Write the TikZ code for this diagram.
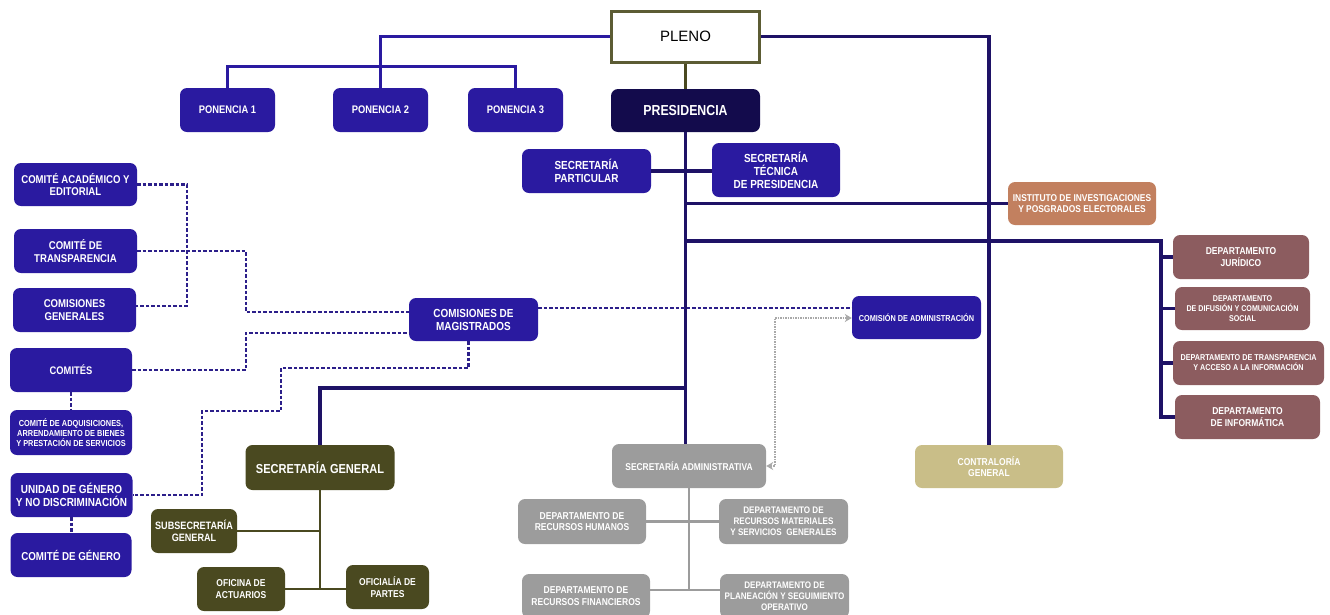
\documentclass[tikz,border=0pt]{standalone}
\usepackage{fontspec}
\setmainfont{Liberation Sans}[FakeStretch=0.85]
\newfontfamily\plenofont{Liberation Sans}
\usepackage{tikz}
\usetikzlibrary{arrows.meta}
\definecolor{org_blue}{HTML}{2A1AA0}
\definecolor{org_navy}{HTML}{130B4C}
\definecolor{org_line}{HTML}{1E1266}
\definecolor{org_dash}{HTML}{2C1F8A}
\definecolor{org_olive}{HTML}{4A4920}
\definecolor{org_frame}{HTML}{5C5C34}
\definecolor{org_orange}{HTML}{C2805F}
\definecolor{org_mauve}{HTML}{8C5C5F}
\definecolor{org_gray}{HTML}{9C9C9C}
\definecolor{org_khaki}{HTML}{C9BE88}
\definecolor{org_dotted}{HTML}{A9A9A9}

\begin{document}
\begin{tikzpicture}[>=stealth, x=1pt, y=-1pt,
  box/.style={rectangle, rounded corners=7pt, inner sep=0pt, align=center,
    text=white, font=\bfseries\fontsize{11}{12.5}\selectfont},
  bluebox/.style={box, fill=org_blue},
  olivebox/.style={box, fill=org_olive},
  graybox/.style={box, fill=org_gray, font=\bfseries\fontsize{10}{11.5}\selectfont},
  mauvebox/.style={box, fill=org_mauve, font=\bfseries\fontsize{8.5}{10}\selectfont},
  conn/.style={line width=3.3pt, org_line},
  dashline/.style={line width=2.3pt, org_dash, dash pattern=on 3.5pt off 2pt}]

  \useasboundingbox (0,0) rectangle (1330,614);

  % top
  \node[draw=org_frame, line width=3pt, fill=white, minimum width=148, minimum height=51,
    font=\plenofont\fontsize{15}{17}\selectfont] (pleno) at (685.5,36.5) {PLENO};
  \node[box, fill=org_navy, minimum width=149, minimum height=43,
    font=\bfseries\fontsize{14.5}{16}\selectfont] (presid) at (685.5,110.5) {PRESIDENCIA};
  \node[bluebox, minimum width=95, minimum height=44] (pon1) at (227.5,110) {PONENCIA 1};
  \node[bluebox, minimum width=95, minimum height=44] (pon2) at (380.5,110) {PONENCIA 2};
  \node[bluebox, minimum width=95, minimum height=44] (pon3) at (515.5,110) {PONENCIA 3};

  \node[bluebox, minimum width=129, minimum height=44, font=\bfseries\fontsize{11.7}{13}\selectfont] (secpart) at (586.5,171) {SECRETAR\'IA\\PARTICULAR};
  \node[bluebox, minimum width=128, minimum height=54, font=\bfseries\fontsize{11.7}{13}\selectfont] (sectec) at (776,170) {SECRETAR\'IA\\T\'ECNICA\\DE PRESIDENCIA};
  \node[box, fill=org_orange, minimum width=148, minimum height=43,
    font=\bfseries\fontsize{9.9}{11.5}\selectfont] (inst) at (1082,203.5) {INSTITUTO DE INVESTIGACIONES\\Y POSGRADOS ELECTORALES};

  % departamentos
  \node[mauvebox, minimum width=136, minimum height=44, font=\bfseries\fontsize{10}{11.5}\selectfont] (djur) at (1241,257) {DEPARTAMENTO\\JUR\'IDICO};
  \node[mauvebox, minimum width=135, minimum height=43, font=\bfseries\fontsize{8.4}{10}\selectfont] (ddif) at (1242.5,308.5) {DEPARTAMENTO\\DE DIFUSI\'ON Y COMUNICACI\'ON\\SOCIAL};
  \node[mauvebox, minimum width=151, minimum height=44] (dtra) at (1248.5,363) {DEPARTAMENTO DE TRANSPARENCIA\\Y ACCESO A LA INFORMACI\'ON};
  \node[mauvebox, minimum width=145, minimum height=44, font=\bfseries\fontsize{10}{11.5}\selectfont] (dinf) at (1247.5,417) {DEPARTAMENTO\\DE INFORM\'ATICA};

  % comites
  \node[bluebox, minimum width=123, minimum height=43, font=\bfseries\fontsize{11.3}{12.5}\selectfont] (cacad) at (75.5,184.5) {COMIT\'E ACAD\'EMICO Y\\EDITORIAL};
  \node[bluebox, minimum width=123, minimum height=44, font=\bfseries\fontsize{11.3}{12.5}\selectfont] (ctrans) at (75.5,251) {COMIT\'E DE\\TRANSPARENCIA};
  \node[bluebox, minimum width=123, minimum height=44, font=\bfseries\fontsize{11.3}{12.5}\selectfont] (cgen) at (74.5,310) {COMISIONES\\GENERALES};
  \node[bluebox, minimum width=122, minimum height=44] (comites) at (71,370) {COMIT\'ES};
  \node[bluebox, minimum width=122, minimum height=45, font=\bfseries\fontsize{8.7}{10}\selectfont] (cadq) at (71,432.5) {COMIT\'E DE ADQUISICIONES,\\ARRENDAMIENTO DE BIENES\\Y PRESTACI\'ON DE SERVICIOS};
  \node[bluebox, minimum width=122, minimum height=44, font=\bfseries\fontsize{11.7}{13}\selectfont] (unidad) at (71.5,495) {UNIDAD DE G\'ENERO\\Y NO DISCRIMINACI\'ON};
  \node[bluebox, minimum width=121, minimum height=44, font=\bfseries\fontsize{11.5}{13}\selectfont] (cgenero) at (71,555) {COMIT\'E DE G\'ENERO};

  \node[bluebox, minimum width=129, minimum height=43, font=\bfseries\fontsize{11.7}{13}\selectfont] (cdm) at (473.5,319.5) {COMISIONES DE\\MAGISTRADOS};
  \node[bluebox, minimum width=129, minimum height=43, font=\bfseries\fontsize{8.6}{10}\selectfont] (cda) at (916.5,317.5) {COMISI\'ON DE ADMINISTRACI\'ON};

  % secretaria general
  \node[olivebox, minimum width=149, minimum height=45, font=\bfseries\fontsize{13}{15}\selectfont] (secgen) at (320,467.5) {SECRETAR\'IA GENERAL};
  \node[olivebox, minimum width=86, minimum height=44, font=\bfseries\fontsize{10.7}{12}\selectfont] (subsec) at (194,531) {SUBSECRETAR\'IA\\GENERAL};
  \node[olivebox, minimum width=88, minimum height=44, font=\bfseries\fontsize{10}{11.5}\selectfont] (ofact) at (241,589) {OFICINA DE\\ACTUARIOS};
  \node[olivebox, minimum width=83, minimum height=44, font=\bfseries\fontsize{10}{11.5}\selectfont] (ofpar) at (387.5,587) {OFICIAL\'IA DE\\PARTES};

  % secretaria administrativa
  \node[graybox, minimum width=154, minimum height=44, font=\bfseries\fontsize{9.9}{11.5}\selectfont] (secadm) at (689,466) {SECRETAR\'IA ADMINISTRATIVA};
  \node[graybox, minimum width=128, minimum height=45] (drh) at (582,521.5) {DEPARTAMENTO DE\\RECURSOS HUMANOS};
  \node[graybox, minimum width=129, minimum height=45, font=\bfseries\fontsize{9.5}{11}\selectfont] (drm) at (783.5,521.5) {DEPARTAMENTO DE\\RECURSOS MATERIALES\\Y SERVICIOS\ \ GENERALES};
  \node[graybox, minimum width=128, minimum height=44] (drf) at (586,596) {DEPARTAMENTO DE\\RECURSOS FINANCIEROS};
  \node[graybox, minimum width=129, minimum height=44, font=\bfseries\fontsize{9.5}{11}\selectfont] (dpl) at (784.5,596) {DEPARTAMENTO DE\\PLANEACI\'ON Y SEGUIMIENTO\\OPERATIVO};

  \node[box, fill=org_khaki, minimum width=148, minimum height=43,
    font=\bfseries\fontsize{10}{11.5}\selectfont] (contra) at (989,466.5) {CONTRALOR\'IA\\GENERAL};

  \coordinate (ponbar) at (380,66);
  \coordinate (depbar) at (1161,241);
  \coordinate (sgbar) at (500,388);
  \coordinate (sabot) at (689,590);
  \coordinate (d2) at (246,312);
  \coordinate (d3) at (246,333);
  \coordinate (d4a) at (281,368);
  \coordinate (d4b) at (202,411);
  \coordinate (brk) at (187,306);
  \coordinate (g1) at (775,318);

  % solid connectors
  \draw[line width=3pt, org_blue] (pleno.west) -| (pon2.north);
  \draw[line width=3pt, org_blue] (pon1.north) |- (ponbar) -| (pon3.north);
  \draw[conn] (pleno.east) -| (contra.north);
  \draw[line width=3.3pt, org_olive] (pleno.south) -- (presid.north);
  \draw[conn] (presid.south) -- (presid.south |- secadm.north);
  \draw[conn] (secpart.east) -- (secpart.east -| sectec.west);
  \draw[conn] (presid.south |- inst.west) -- (inst.west);
  \draw[conn] (presid.south |- depbar) -- (depbar) -- (depbar |- dinf.west) -- (dinf.west);
  \foreach \d in {djur,ddif,dtra}
    \draw[conn] (depbar |- \d.west) -- (\d.west);
  \draw[conn] (presid.south |- sgbar) -| (secgen.north);

  \draw[line width=2.8pt, org_olive] (secgen.south) -- (secgen.south |- ofact.east);
  \draw[line width=2.8pt, org_olive] (subsec.east) -- (subsec.east -| secgen.south);
  \draw[line width=2.8pt, org_olive] (ofact.east) -- (ofact.east -| ofpar.west);

  \draw[line width=2.8pt, org_gray] (secadm.south) -- (sabot);
  \draw[line width=2.8pt, org_gray] (drh.east) -- (drm.west);
  \draw[line width=2.8pt, org_gray] (sabot -| drf.east) -- (sabot -| dpl.west);

  % dashed connectors
  \draw[dashline] (cacad.east) -| (brk) -- (brk -| cgen.east);
  \draw[dashline] (ctrans.east) -| (d2) -- (d2 -| cdm.west);
  \draw[dashline] (comites.east) -| (d3) -- (d3 -| cdm.west);
  \draw[dashline] ([xshift=-5pt]cdm.south) |- (d4a) |- (d4b) |- (unidad.east);
  \draw[dashline] (comites.south) -- (cadq.north);
  \draw[dashline] (unidad.south) -- (unidad.south |- cgenero.north);
  \draw[dashline] ([yshift=11.5pt]cdm.east) -- ([yshift=11.5pt]cdm.east -| cda.west);

  \draw[{Stealth[length=7pt,width=8pt]}-{Stealth[length=7pt,width=8pt]}, line width=2pt, org_dotted,
    dash pattern=on 1.5pt off 1pt] (secadm.east) -| (g1) -- (g1 -| cda.west);

\end{tikzpicture}
\end{document}
